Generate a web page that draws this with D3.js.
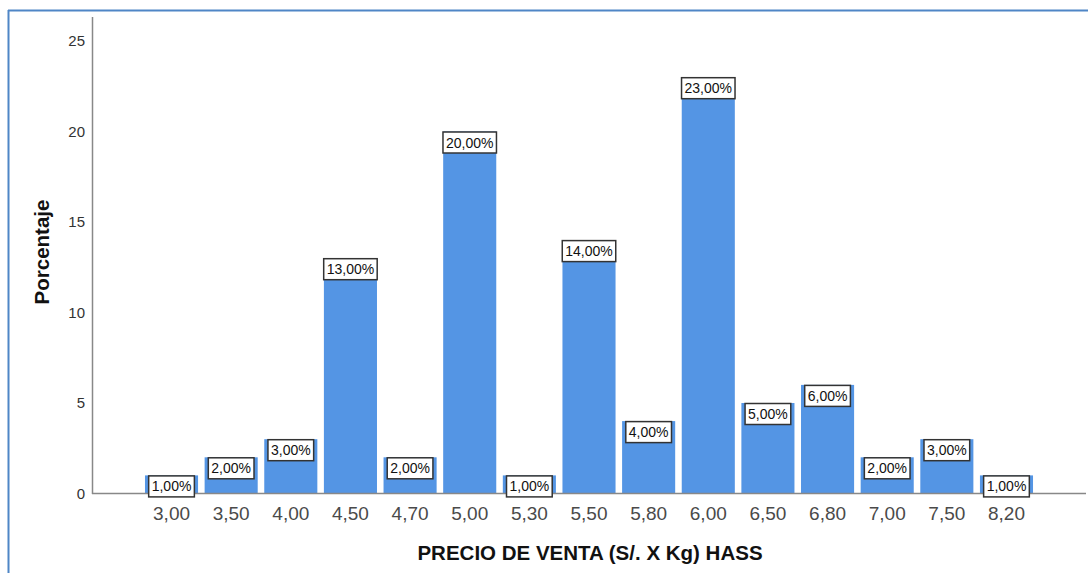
<!DOCTYPE html>
<html>
<head>
<meta charset="utf-8">
<script src="https://cdn.jsdelivr.net/npm/d3@7"></script>
<style>
  html, body { margin: 0; padding: 0; background: #fff; }
  svg { display: block; }
</style>
</head>
<body>
<svg id="chart" width="1088" height="573"></svg>
<script>
// Precio de venta (S/. x Kg) de palta Hass y porcentaje de casos
const categories = ["3,00","3,50","4,00","4,50","4,70","5,00","5,30","5,50","5,80","6,00","6,50","6,80","7,00","7,50","8,20"];
const percentages = [1, 2, 3, 13, 2, 20, 1, 14, 4, 23, 5, 6, 2, 3, 1];
const yTicks = [0, 5, 10, 15, 20, 25];

const svg = d3.select("#chart");
const font = "'Liberation Sans', Arial, sans-serif";

// outer frame (top and left edges)
svg.append("line").attr("x1", 8).attr("x2", 1088).attr("y1", 10.5).attr("y2", 10.5)
  .attr("stroke", "#4f86c6").attr("stroke-width", 2);
svg.append("line").attr("x1", 8.5).attr("x2", 8.5).attr("y1", 10).attr("y2", 573)
  .attr("stroke", "#4f86c6").attr("stroke-width", 2);

const x = d3.scaleBand().domain(categories).range([141.7, 1036.3])
  .paddingInner(0.11).paddingOuter(0.055);
const y = d3.scaleLinear().domain([0, 25]).range([493.5, 41]);

// bars
svg.append("g").selectAll("rect").data(categories).join("rect")
  .attr("x", d => x(d))
  .attr("y", (d, i) => y(percentages[i]))
  .attr("width", x.bandwidth())
  .attr("height", (d, i) => y(0) - y(percentages[i]))
  .attr("fill", "#5495e4");

// axes lines
svg.append("line").attr("x1", 92.5).attr("x2", 92.5).attr("y1", 17).attr("y2", 494)
  .attr("stroke", "#888").attr("stroke-width", 1.5);
svg.append("line").attr("x1", 92).attr("x2", 1086).attr("y1", 493.5).attr("y2", 493.5)
  .attr("stroke", "#888").attr("stroke-width", 1.5);

// y axis tick labels
const yAxis = d3.axisLeft(y).tickValues(yTicks).tickSize(0).tickPadding(0).tickFormat(d3.format("d"));
const yg = svg.append("g").attr("transform", "translate(85,0)").call(yAxis);
yg.select(".domain").remove();
yg.selectAll("text").attr("font-family", font).attr("font-size", 15).attr("fill", "#333");

// x axis tick labels
const xAxis = d3.axisBottom(x).tickSize(0).tickPadding(0);
const xg = svg.append("g").attr("transform", "translate(0,506)").call(xAxis);
xg.select(".domain").remove();
xg.selectAll("text").attr("font-family", font).attr("font-size", 19).attr("fill", "#4a4a4a");

// value labels in boxed tags at the bar tops
const lab = svg.append("g").selectAll("g").data(categories).join("g")
  .attr("transform", (d, i) => `translate(${x(d) + x.bandwidth() / 2},${y(percentages[i])})`);
lab.append("text")
  .attr("text-anchor", "middle")
  .attr("y", 16)
  .attr("font-family", font).attr("font-size", 14).attr("fill", "#111")
  .text((d, i) => percentages[i].toFixed(2).replace(".", ",") + "%");
lab.each(function () {
  const g = d3.select(this);
  const bb = g.select("text").node().getBBox();
  g.insert("rect", "text")
    .attr("x", bb.x - 3).attr("y", 0.5)
    .attr("width", bb.width + 6).attr("height", 21)
    .attr("fill", "#fff").attr("stroke", "#333").attr("stroke-width", 1.5);
});

// axis titles
svg.append("text").attr("x", 590).attr("y", 560).attr("text-anchor", "middle")
  .attr("font-family", font).attr("font-size", 20.5).attr("font-weight", "bold").attr("fill", "#111")
  .text("PRECIO DE VENTA (S/. X Kg) HASS");
svg.append("text").attr("transform", "translate(49,252) rotate(-90)").attr("text-anchor", "middle")
  .attr("font-family", font).attr("font-size", 20.5).attr("font-weight", "bold").attr("fill", "#111")
  .text("Porcentaje");
</script>
</body>
</html>
